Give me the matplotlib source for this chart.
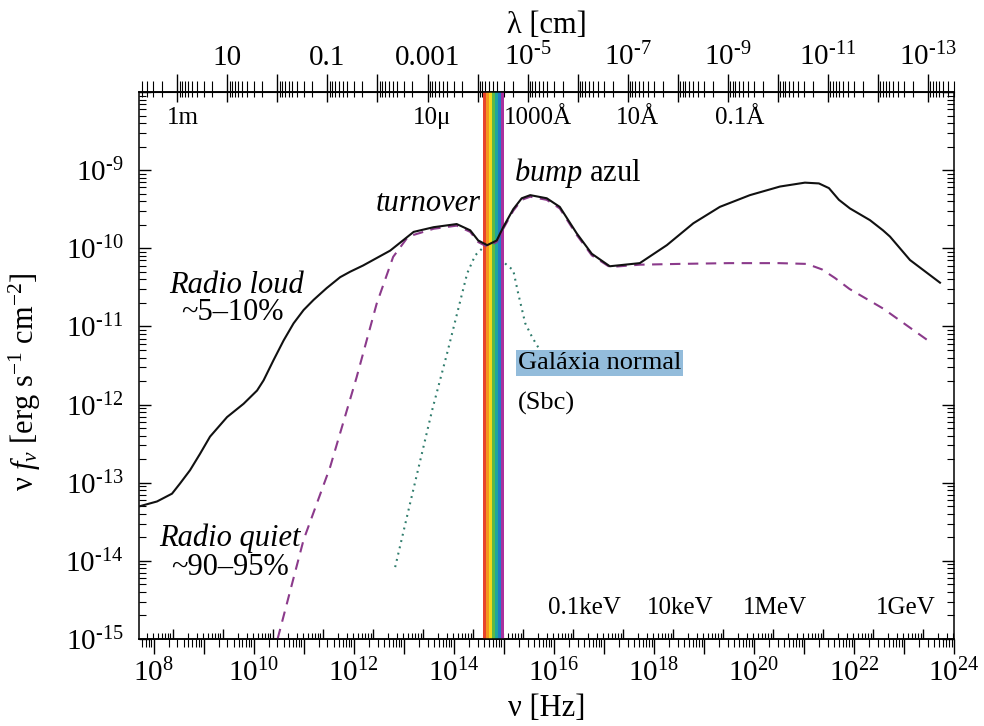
import numpy as np
import matplotlib
matplotlib.use("Agg")
import matplotlib.pyplot as plt
from matplotlib.ticker import LogLocator, NullFormatter, FuncFormatter, FixedLocator

plt.rcParams["font.family"] = ["Liberation Serif", "DejaVu Serif"]
plt.rcParams["mathtext.fontset"] = "custom"
plt.rcParams["mathtext.rm"] = "Liberation Serif"
plt.rcParams["mathtext.it"] = "Liberation Serif:italic"
plt.rcParams["mathtext.bf"] = "Liberation Serif:bold"

# ---- spectral energy distributions (log10 nu [Hz], log10 nu*f_nu [erg s^-1 cm^-2]) ----
loud_lognu = [7.73, 8.07, 8.37, 8.53, 8.73, 8.93, 9.13, 9.47, 9.80, 10.07, 10.20,
              10.40, 10.60, 10.80, 11.00, 11.20, 11.46, 11.73, 11.93, 12.19, 12.73,
              13.20, 13.60, 14.06, 14.33, 14.49, 14.67, 14.86, 14.99, 15.19, 15.36,
              15.53, 15.86, 16.12, 16.46, 16.76, 17.12, 17.72, 18.26, 18.79, 19.32,
              19.92, 20.52, 21.02, 21.30, 21.50, 21.70, 21.92, 22.32, 22.58, 22.72,
              23.12, 23.72]
loud_logflux = [-13.30, -13.24, -13.14, -13.01, -12.84, -12.63, -12.41, -12.16, -11.99,
                -11.82, -11.69, -11.43, -11.18, -10.96, -10.79, -10.66, -10.51, -10.37,
                -10.30, -10.22, -10.03, -9.79, -9.73, -9.69, -9.77, -9.90, -9.96, -9.90,
                -9.73, -9.50, -9.36, -9.32, -9.36, -9.47, -9.81, -10.07, -10.23, -10.19,
                -9.96, -9.68, -9.47, -9.32, -9.21, -9.16, -9.17, -9.23, -9.38, -9.49,
                -9.64, -9.77, -9.85, -10.15, -10.44]

quiet_lognu = [10.48, 11.00, 11.53, 12.06, 12.46, 12.79, 13.09, 13.60, 14.06, 14.33,
               14.49, 14.67, 14.86, 14.99, 15.19, 15.36, 15.53, 15.86, 16.12, 16.46,
               16.76, 17.12, 17.72, 18.50, 19.50, 20.50, 21.06, 21.36, 21.62, 21.91,
               22.58, 23.48]
quiet_logflux = [-15.00, -13.73, -12.80, -11.65, -10.71, -10.11, -9.85, -9.75, -9.71,
                 -9.79, -9.92, -9.98, -9.92, -9.75, -9.52, -9.38, -9.34, -9.38, -9.49,
                 -9.83, -10.09, -10.24, -10.21, -10.20, -10.19, -10.19, -10.20, -10.27,
                 -10.38, -10.52, -10.77, -11.18]

galaxy_lognu = [12.83, 13.13, 13.57, 13.87, 14.07, 14.27, 14.43, 14.59, 14.73, 14.93,
                15.07, 15.19, 15.29, 15.43, 15.57, 15.72]
galaxy_logflux = [-14.08, -13.26, -12.07, -11.34, -10.83, -10.32, -10.09, -9.99, -10.00,
                  -10.13, -10.22, -10.28, -10.58, -10.96, -11.14, -11.30]

# visible window (log10 nu) and its colour stripes, red to violet
visible_lognu = [14.59, 15.00]
visible_colors = ["#e8432b", "#f4951f", "#f3d81c", "#5db947", "#1ea79b", "#2379c4", "#a8309e"]

# axis ranges (log10)
x_range = [7.71, 24.0]
y_range = [-15.0, -8.0]

# labels along the inside of the frame
wave_marks = ["1m", "10μ", "1000Å", "10Å", "0.1Å"]
energy_marks = ["0.1keV", "10keV", "1MeV", "1GeV"]

C_CM = 2.998e10          # speed of light [cm/s]
HZ_PER_EV = 2.418e14     # frequency of a 1 eV photon


def nu2lam(nu):
    nu = np.asarray(nu, dtype=float)
    with np.errstate(divide="ignore", invalid="ignore"):
        return C_CM / nu


def lam2nu(lam):
    lam = np.asarray(lam, dtype=float)
    with np.errstate(divide="ignore", invalid="ignore"):
        return C_CM / lam


def nu2ev(nu):
    return np.asarray(nu, dtype=float) / HZ_PER_EV


def ev2nu(ev):
    return np.asarray(ev, dtype=float) * HZ_PER_EV


W, H = 984, 726
fig = plt.figure(figsize=(W / 100, H / 100), dpi=100)
ax = fig.add_axes([139 / W, 1 - 639 / H, 815 / W, 547 / H])
ax.set_xscale("log")
ax.set_yscale("log")
ax.set_xlim(10 ** x_range[0], 10 ** x_range[1])
ax.set_ylim(10 ** y_range[0], 10 ** y_range[1])

# visible band
edges = np.logspace(visible_lognu[0], visible_lognu[1], len(visible_colors) + 1)
for lo, hi, col in zip(edges[:-1], edges[1:], visible_colors):
    ax.axvspan(lo, hi, color=col, lw=0, zorder=1)

ax.plot(10 ** np.array(galaxy_lognu), 10 ** np.array(galaxy_logflux),
        color="#2f7c6c", lw=1.5, dashes=(0.9, 2.2), zorder=0.8)
ax.plot(10 ** np.array(quiet_lognu), 10 ** np.array(quiet_logflux),
        color="#8b3a8b", lw=1.5, dashes=(5.0, 3.6), zorder=2)
ax.plot(10 ** np.array(loud_lognu), 10 ** np.array(loud_logflux),
        color="#111111", lw=1.5, zorder=3)

for sp in ax.spines.values():
    sp.set_linewidth(1.1)

TICK_FS = 21

# bottom frequency axis
ax.xaxis.set_major_locator(FixedLocator(10.0 ** np.arange(8, 25)))
ax.xaxis.set_minor_locator(LogLocator(base=10, subs=np.arange(2, 10), numticks=400))


def nu_fmt(v, pos):
    e = int(round(np.log10(v)))
    return r"$10^{%d}$" % e if e % 2 == 0 else ""


ax.xaxis.set_major_formatter(FuncFormatter(nu_fmt))
ax.xaxis.set_minor_formatter(NullFormatter())
ax.tick_params(axis="x", which="major", direction="out", length=11, width=1.0,
               labelsize=TICK_FS, pad=3, top=False)
ax.tick_params(axis="x", which="minor", direction="out", length=6, width=0.8, top=False)

# flux axis
ax.yaxis.set_major_locator(FixedLocator(10.0 ** np.arange(-15, -7)))
ax.yaxis.set_minor_locator(LogLocator(base=10, subs=np.arange(2, 10), numticks=200))


def flux_fmt(v, pos):
    e = int(round(np.log10(v)))
    if e > -9:
        return ""
    return r"$10^{\text{-%d}}$" % (-e)


ax.yaxis.set_major_formatter(FuncFormatter(flux_fmt))
ax.yaxis.set_minor_formatter(NullFormatter())
ax.tick_params(axis="y", which="major", direction="in", length=8.5, width=1.0,
               labelsize=TICK_FS, pad=11, left=True, right=True)
ax.tick_params(axis="y", which="minor", direction="in", length=5, width=0.8,
               left=True, right=True)

# photon energy ticks, inside the bottom edge
sec_e = ax.secondary_xaxis("bottom", functions=(nu2ev, ev2nu))
sec_e.xaxis.set_major_locator(LogLocator(base=10, numticks=40))
sec_e.xaxis.set_minor_locator(LogLocator(base=10, subs=np.arange(2, 10), numticks=400))
sec_e.xaxis.set_major_formatter(NullFormatter())
sec_e.xaxis.set_minor_formatter(NullFormatter())
sec_e.tick_params(which="major", direction="in", length=7, width=1.0, labelbottom=False)
sec_e.tick_params(which="minor", direction="in", length=4, width=0.8)
sec_e.spines["bottom"].set_linewidth(1.1)

# wavelength axis on top (outer ticks with labels, short inner ticks)
lam_major = FixedLocator(10.0 ** np.arange(-13, 3))


def lam_fmt(v, pos):
    e = int(round(np.log10(v)))
    if e % 2 == 0:
        return ""
    if e == 1:
        return "10"
    if e == -1:
        return "0.1"
    if e == -3:
        return "0.001"
    return r"$10^{\text{-%d}}$" % (-e)


sec_lo = ax.secondary_xaxis("top", functions=(nu2lam, lam2nu))
sec_lo.xaxis.set_major_locator(lam_major)
sec_lo.xaxis.set_minor_locator(LogLocator(base=10, subs=np.arange(2, 10), numticks=400))
sec_lo.xaxis.set_major_formatter(FuncFormatter(lam_fmt))
sec_lo.xaxis.set_minor_formatter(NullFormatter())
sec_lo.tick_params(which="major", direction="out", length=13, width=1.0,
                   labelsize=TICK_FS, pad=2)
sec_lo.tick_params(which="minor", direction="out", length=8, width=0.8)
sec_lo.spines["top"].set_linewidth(1.1)
sec_lo.set_xlabel("λ [cm]", fontsize=22, labelpad=7)

sec_li = ax.secondary_xaxis("top", functions=(nu2lam, lam2nu))
sec_li.xaxis.set_major_locator(lam_major)
sec_li.xaxis.set_minor_locator(LogLocator(base=10, subs=np.arange(2, 10), numticks=400))
sec_li.xaxis.set_major_formatter(NullFormatter())
sec_li.xaxis.set_minor_formatter(NullFormatter())
sec_li.tick_params(which="major", direction="in", length=7, width=1.0, labeltop=False)
sec_li.tick_params(which="minor", direction="in", length=3.5, width=0.8)

ax.set_xlabel("ν [Hz]", fontsize=22)
ax.xaxis.set_label_coords(0.5, -0.100)
ax.set_ylabel(r"ν $f_{\nu}$ [erg s$^{-1}$ cm$^{-2}$]", fontsize=22)
ax.yaxis.set_label_coords(-0.118, 0.47)

# inside marks
wave_x = [0.054, 0.3595, 0.4896, 0.612, 0.737]
for txt, xf in zip(wave_marks, wave_x):
    ax.text(xf, 0.952, txt, transform=ax.transAxes, ha="center", va="center", fontsize=18)
energy_x = [0.547, 0.664, 0.780, 0.941]
for txt, xf in zip(energy_marks, energy_x):
    ax.text(xf, 0.0567, txt, transform=ax.transAxes, ha="center", va="center", fontsize=18)

# annotations
ax.text(0.120, 0.647, "Radio loud", style="italic", transform=ax.transAxes,
        ha="center", va="center", fontsize=22)
ax.text(0.115, 0.596, "~5–10%", transform=ax.transAxes, ha="center", va="center", fontsize=22)
ax.text(0.112, 0.185, "Radio quiet", style="italic", transform=ax.transAxes,
        ha="center", va="center", fontsize=22)
ax.text(0.112, 0.130, "~90–95%", transform=ax.transAxes, ha="center", va="center", fontsize=22)
ax.text(0.355, 0.797, "turnover", style="italic", transform=ax.transAxes,
        ha="center", va="center", fontsize=22)
ax.text(0.539, 0.852, r"$\mathit{bump}$ azul", transform=ax.transAxes,
        ha="center", va="center", fontsize=22)
ax.text(0.465, 0.504, "Galáxia normal", transform=ax.transAxes, ha="left", va="center",
        fontsize=19, bbox=dict(boxstyle="square,pad=0.08", facecolor="#93bcdb",
                               edgecolor="none"))
ax.text(0.465, 0.431, "(Sbc)", transform=ax.transAxes, ha="left", va="center", fontsize=19)

fig.savefig("out.png", dpi=100)
